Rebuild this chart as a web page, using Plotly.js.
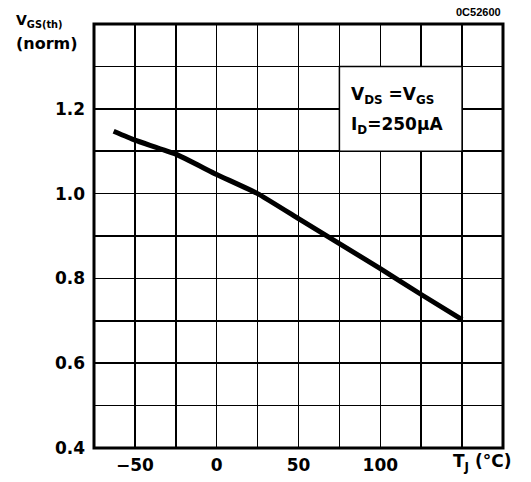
<!DOCTYPE html>
<html>
<head>
<meta charset="utf-8">
<script src="https://cdn.plot.ly/plotly-3.0.1.min.js"></script>
<style>html,body{margin:0;padding:0;background:#fff}#chart{width:531px;height:482px}</style>
</head>
<body>
<div id="chart"></div>
<script>
// Junction temperature (°C)
const tempC = [-63, -50, -25, 0, 25, 50, 75, 100, 125, 150];
// Normalised gate threshold voltage
const vgsNorm = [1.147, 1.126, 1.093, 1.045, 1.0, 0.941, 0.882, 0.823, 0.762, 0.703];

const xTickVals = [-50, 0, 50, 100];
const xTickText = ['\u221250', '0', '50', '100'];
const xMinorVals = [-75, -25, 25, 75, 125, 150, 175];
const yTickVals = [0.4, 0.6, 0.8, 1.0, 1.2];
const yTickText = ['0.4', '0.6', '0.8', '1.0', '1.2'];
const yMinorVals = [0.5, 0.7, 0.9, 1.1, 1.3, 1.4];

const FONT = 'DejaVu Sans, Verdana, sans-serif';
const tickFont = {family: FONT, size: 17, color: '#000', weight: 'bold'};

const trace = {
  x: tempC, y: vgsNorm, type: 'scatter', mode: 'lines',
  line: {color: '#000', width: 5, shape: 'spline', smoothing: 0.4},
  hoverinfo: 'skip'
};

const gridStyle = {showgrid: true, gridcolor: '#000', gridwidth: 1.5, ticks: '', ticklen: 0};

const layout = {
  width: 531, height: 482,
  margin: {l: 94, r: 28, t: 24, b: 34},
  paper_bgcolor: '#fff', plot_bgcolor: '#fff',
  showlegend: false,
  font: {family: FONT, color: '#000', size: 17},
  xaxis: {
    range: [-75, 175], tickmode: 'array', tickvals: xTickVals, ticktext: xTickText,
    showgrid: true, gridcolor: '#000', gridwidth: 1.5,
    minor: Object.assign({tickmode: 'array', tickvals: xMinorVals}, gridStyle),
    zeroline: false, showline: false, ticks: '', ticklen: 0, ticklabelstandoff: 5,
    tickfont: tickFont, fixedrange: true
  },
  yaxis: {
    range: [0.4, 1.4], tickmode: 'array', tickvals: yTickVals, ticktext: yTickText,
    showgrid: true, gridcolor: '#000', gridwidth: 1.5,
    minor: Object.assign({tickmode: 'array', tickvals: yMinorVals}, gridStyle),
    zeroline: false, showline: false, ticks: '', ticklen: 0, ticklabelstandoff: 8,
    tickfont: tickFont, fixedrange: true
  },
  shapes: [
    {type: 'rect', xref: 'x', yref: 'y', x0: 75, x1: 150, y0: 1.1, y1: 1.3,
     fillcolor: '#fff', line: {color: '#000', width: 1.5}, layer: 'above'},
    {type: 'rect', xref: 'paper', yref: 'paper', x0: 0, x1: 1, y0: 0, y1: 1,
     line: {color: '#000', width: 3}, layer: 'above'}
  ],
  annotations: [
    {xref: 'x', yref: 'y', x: 81, y: 1.232, xanchor: 'left', yanchor: 'middle', showarrow: false,
     text: '<b>V<sub>DS</sub> =V<sub>GS</sub></b>', font: {family: FONT, size: 17, color: '#000'}},
    {xref: 'x', yref: 'y', x: 81, y: 1.16, xanchor: 'left', yanchor: 'middle', showarrow: false,
     text: '<b>I<sub>D</sub>=250\u03bcA</b>', font: {family: FONT, size: 17, color: '#000'}},
    {xref: 'paper', yref: 'paper', x: 1, y: 1, xanchor: 'right', yanchor: 'bottom', yshift: 4, showarrow: false,
     text: '<b>0C52600</b>', font: {family: 'Liberation Sans, Arial, sans-serif', size: 11, color: '#000'}},
    {xref: 'paper', yref: 'paper', x: 0.949, y: -0.035, xanchor: 'center', yanchor: 'middle', showarrow: false,
     text: '<b>T<sub>J</sub> (\u00b0C)</b>', font: {family: FONT, size: 17, color: '#000'}},
    {xref: 'paper', yref: 'paper', x: -0.196, y: 0.981, xanchor: 'left', yanchor: 'bottom', showarrow: false,
     text: '<b>V<sub>GS(th)</sub></b>', font: {family: FONT, size: 14, color: '#000'}},
    {xref: 'paper', yref: 'paper', x: -0.196, y: 0.981, xanchor: 'left', yanchor: 'top', showarrow: false,
     text: '<b>(norm)</b>', font: {family: FONT, size: 16, color: '#000'}}
  ]
};

Plotly.newPlot('chart', [trace], layout, {displayModeBar: false, staticPlot: true});
</script>
</body>
</html>
